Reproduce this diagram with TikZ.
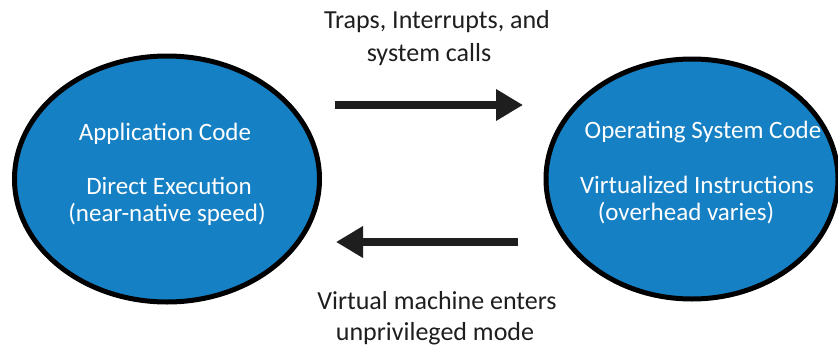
\documentclass[tikz,border=0pt]{standalone}
\usepackage{fontspec}
\setmainfont{Carlito}
\usetikzlibrary{shapes.geometric,arrows.meta}
\definecolor{vmblue}{HTML}{1680C4}
\definecolor{txt}{HTML}{1E1E1E}
\begin{document}
\begin{tikzpicture}[x=1pt,y=-1pt,
  blob/.style={ellipse,draw=black,line width=5pt,fill=vmblue,inner sep=0pt},
  intext/.style={text=white,font=\fontsize{25}{30}\selectfont,inner sep=0pt},
  lbl/.style={text=txt,font=\fontsize{26}{30}\selectfont,inner sep=0pt},
  bigarrow/.style={line width=8pt,draw=txt,-{Triangle[length=27pt,width=30pt]}}]
\useasboundingbox (0,0) rectangle (838,359);
\clip (0,0) rectangle (838,359);
% ellipses
\node[blob,minimum width=305pt,minimum height=246pt] (app) at (167,179) {};
\node[blob,minimum width=292pt,minimum height=240pt] (os) at (692,179) {};
% ellipse texts
\node[intext] (appT) at (165,134) {Application Code};
\node[intext] (appD) at (169,186) {Direct Execution};
\node[intext] (appN) at (167,214) {(near-native speed)};
\node[intext] (osT) at (703,132) {Operating System Code};
\node[intext] (osV) at (697,185) {Virtualized Instructions};
\node[intext] (osO) at (686,213) {(overhead varies)};
% labels
\node[lbl] (trap1) at (437,22) {Traps, Interrupts, and};
\node[lbl] (trap2) at (429,55) {system calls};
\node[lbl] (vm1) at (437,301) {Virtual machine enters};
\node[lbl] (vm2) at (435,334) {unprivileged mode};
% arrows
\coordinate (a1) at (335,105);
\coordinate (a2) at (523,105);
\coordinate (b1) at (518,242);
\coordinate (b2) at (336,242);
\draw[bigarrow] (a1) -- (a2);
\draw[bigarrow] (b1) -- (b2);
\end{tikzpicture}
\end{document}
